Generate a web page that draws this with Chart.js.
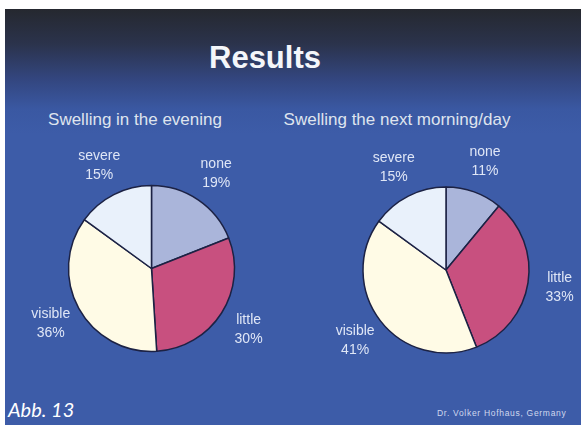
<!DOCTYPE html>
<html>
<head>
<meta charset="utf-8">
<script src="https://cdn.jsdelivr.net/npm/chart.js@4/dist/chart.umd.min.js"></script>
<style>
  html, body { margin: 0; padding: 0; background: #fff; }
  body { width: 582px; height: 425px; position: relative; overflow: hidden; font-family: "Liberation Sans", Arial, sans-serif; }
  #slide {
    position: absolute; left: 5px; top: 9px; width: 576px; height: 416px;
    background: linear-gradient(to bottom, #25282f 0px, #2b334c 35px, #33467f 70px, #3a58a2 100px, #3d5ca8 125px, #3d5ca8 100%);
  }
  .txt { position: absolute; white-space: nowrap; line-height: 1; }
  #title { left: 0; width: 530px; text-align: center; top: 42px; font-size: 31px; font-weight: bold; color: #f4f6fa; }
  .sub { top: 111px; font-size: 17px; color: #dfe4ee; text-align: center; }
  #sub1 { left: 35px; width: 200px; }
  #sub2 { left: 277px; width: 240px; }
  #abb { left: 8px; top: 399px; font-family: Lato, "Open Sans", sans-serif; font-style: italic; font-size: 20px; color: #ffffff; }
  #credit { left: 437px; top: 409px; font-size: 8.5px; color: #d0d8ee; letter-spacing: 0.7px; }
  canvas { position: absolute; }
</style>
</head>
<body>
<div id="slide"></div>
<div class="txt" id="title">Results</div>
<div class="txt sub" id="sub1">Swelling in the evening</div>
<div class="txt sub" id="sub2">Swelling the next morning/day</div>
<canvas id="evening" width="303" height="257" style="left:0px;top:140px"></canvas>
<canvas id="morning" width="272" height="260" style="left:310px;top:140px"></canvas>
<div class="txt" id="abb">Abb. 13</div>
<div class="txt" id="credit">Dr. Volker Hofhaus, Germany</div>
<script>
// swelling grades, clockwise from 12 o'clock
const grades = ['none', 'little', 'visible', 'severe'];
const eveningPct = [19, 30, 36, 15];
const morningPct = [11, 33, 41, 15];

const sliceColors = ['#aab5da', '#c8507f', '#fffbe6', '#e9f1fb'];

// writes "grade / xx%" just outside each slice, on its mid angle
const outsideLabels = {
  id: 'outsideLabels',
  afterDatasetsDraw(chart) {
    const ctx = chart.ctx;
    const meta = chart.getDatasetMeta(0);
    const values = chart.data.datasets[0].data;
    ctx.save();
    ctx.font = '14px "Liberation Sans", Arial, sans-serif';
    ctx.fillStyle = '#dfe6f6';
    ctx.textAlign = 'center';
    ctx.textBaseline = 'middle';
    meta.data.forEach((arc, i) => {
      const mid = (arc.startAngle + arc.endAngle) / 2;
      const r = arc.outerRadius + 32;
      const x = arc.x + Math.cos(mid) * r;
      const y = arc.y + Math.sin(mid) * r;
      ctx.fillText(chart.data.labels[i], x, y - 9.5);
      ctx.fillText(values[i] + '%', x, y + 9.5);
    });
    ctx.restore();
  }
};

function makePie(id, values) {
  new Chart(document.getElementById(id), {
    type: 'pie',
    data: {
      labels: grades,
      datasets: [{
        data: values,
        backgroundColor: sliceColors,
        borderColor: '#1c2244',
        borderWidth: 1.5
      }]
    },
    options: {
      responsive: false,
      animation: false,
      radius: 83,
      layout: { padding: 0 },
      plugins: {
        legend: { display: false },
        tooltip: { enabled: false }
      }
    },
    plugins: [outsideLabels]
  });
}

makePie('evening', eveningPct);
makePie('morning', morningPct);
</script>
</body>
</html>
